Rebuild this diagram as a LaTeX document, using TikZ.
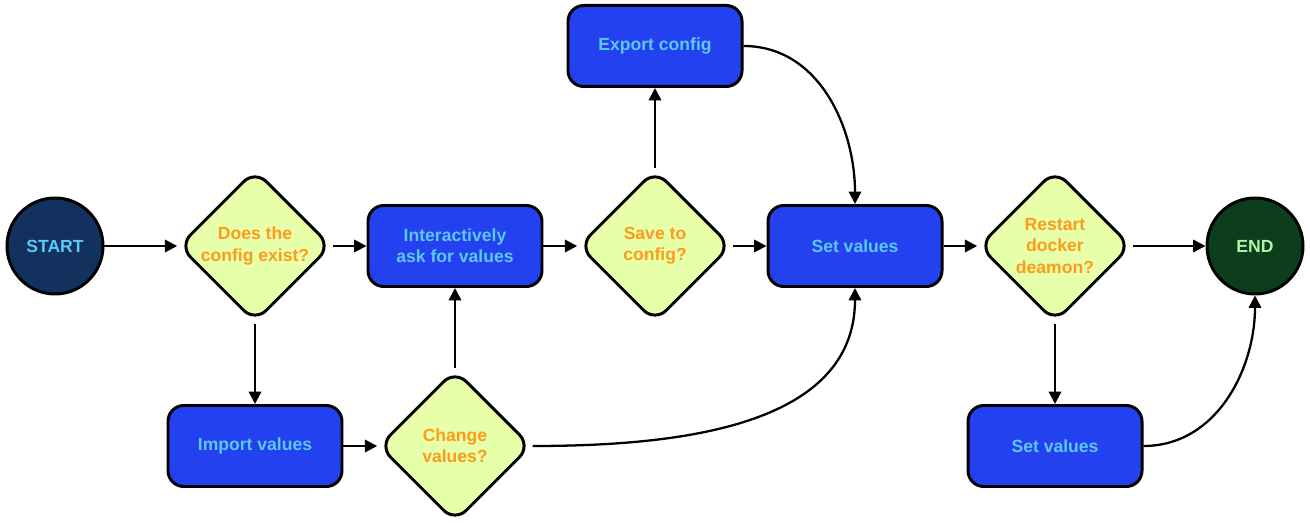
\documentclass[tikz,border=0pt]{standalone}
\usepackage{fontspec}
\setmainfont{Liberation Sans}
\usepackage{xcolor}
\usetikzlibrary{shapes.geometric,arrows.meta,positioning}
\definecolor{boxblue}{HTML}{2341EE}
\definecolor{boxtext}{HTML}{5CC8F8}
\definecolor{decfill}{HTML}{E6FFA8}
\definecolor{dectext}{HTML}{FF9A1A}
\definecolor{startfill}{HTML}{13315E}
\definecolor{endfill}{HTML}{0C3E1C}
\definecolor{endtext}{HTML}{B4F0A8}
\begin{document}
\begin{tikzpicture}[
    box/.style={rectangle, draw, line width=1.7pt, rounded corners=9pt, fill=boxblue, text=boxtext, minimum width=3.48cm, minimum height=1.62cm, align=center, font=\bfseries},
    decision/.style={diamond, draw, line width=1.7pt, rounded corners=9pt, fill=decfill, text=dectext, minimum width=3.05cm, minimum height=3.05cm, inner sep=0pt, align=center, font=\bfseries},
    terminal/.style={circle, draw, line width=1.7pt, minimum size=1.92cm, font=\bfseries},
    arrow/.style={-{Triangle[length=7pt,width=7pt]}, line width=1.3pt},
]
    \useasboundingbox (0,0) rectangle (26.2,10.48);
    % Nodes
    \node[terminal, fill=startfill, text=boxtext] (start) at (1.1,5.56) {START};
    \node[decision] (exist) at (5.1,5.56) {Does the\\config exist?};
    \node[box] (ask) at (9.1,5.56) {Interactively\\ask for values};
    \node[decision] (save) at (13.1,5.56) {Save to\\config?};
    \node[box] (export) at (13.1,9.56) {Export config};
    \node[box] (set) at (17.1,5.56) {Set values};
    \node[decision] (restart) at (21.1,5.56) {Restart\\docker\\deamon?};
    \node[terminal, fill=endfill, text=endtext] (end) at (25.1,5.56) {END};
    \node[box] (import) at (5.1,1.56) {Import values};
    \node[decision] (change) at (9.1,1.56) {Change\\values?};
    \node[box] (settwo) at (21.1,1.56) {Set values};

    % Arrows
    \draw[arrow] (start) -- (exist);
    \draw[arrow] (exist) -- (ask);
    \draw[arrow] (exist) -- (import);
    \draw[arrow] (import) -- (change);
    \draw[arrow] (change) -- (ask);
    \draw[arrow] (ask) -- (save);
    \draw[arrow] (save) -- (export);
    \draw[arrow] (save) -- (set);
    \draw[arrow] (set) -- (restart);
    \draw[arrow] (restart) -- (end);
    \draw[arrow] (restart) -- (settwo);

    % Curved connectors
    \draw[arrow] (export.east) to[out=0, in=90] (set.north);
    \draw[arrow] (change.east) to[out=0, in=-90] (set.south);
    \draw[arrow] (settwo.east) to[out=0, in=-90] (end.south);
\end{tikzpicture}
\end{document}
